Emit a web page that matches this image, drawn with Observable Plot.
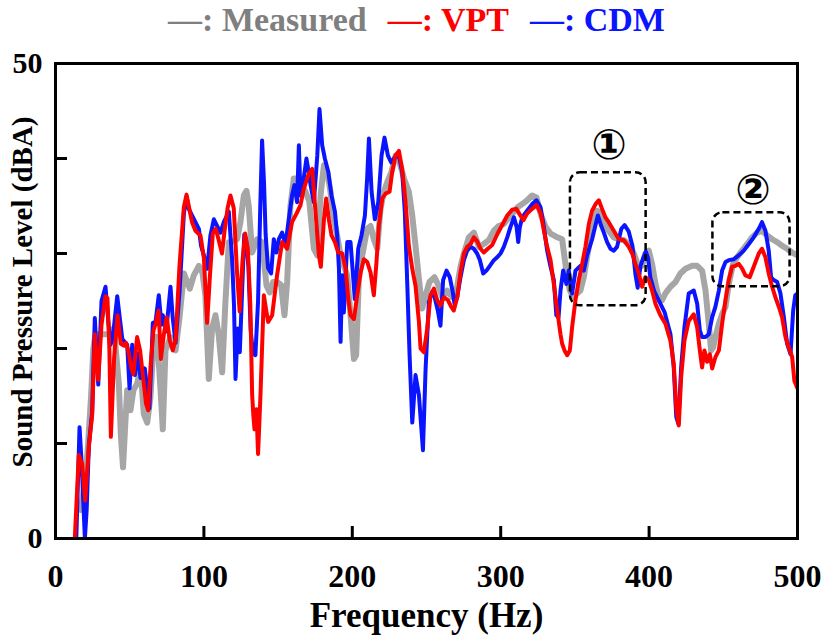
<!DOCTYPE html>
<html><head><meta charset="utf-8">
<script src="https://cdn.jsdelivr.net/npm/d3@7"></script>
<script src="https://cdn.jsdelivr.net/npm/@observablehq/plot@0.6"></script>
<style>
body{margin:0;background:#fff;}
#legend{height:40px;line-height:40px;font-family:"Liberation Serif","Times New Roman",serif;font-weight:bold;font-size:34px;display:flex;justify-content:center;gap:21px;padding-left:8px;white-space:nowrap;}
</style></head><body>
<div id="legend"></div>
<div id="chart"></div>
<script>
// Frequency (Hz), SPL (dBA)
const measured = [[17,3],[20,6],[22,10],[24,15],[25.5,20],[27,21.5],[30,21.5],[33,21.5],[36,21.5],[38,22],[40,21],[42.7,16.3],[44,11],[45.5,7.5],[47,12],[48.3,15.6],[50.5,13.5],[52.5,15.6],[55,16.3],[57.3,18],[59.5,13.1],[61.8,12.2],[64,14.9],[66.3,21.2],[68.5,21.2],[70.8,15.6],[72.3,11.5],[74.1,19.8],[77.5,21.2],[80.9,19.8],[83.6,23.3],[86.5,27.9],[90.5,26.3],[93.2,27.7],[96.6,28.7],[99,28],[101,25.6],[103.3,16.8],[105.5,22.1],[107.8,23.5],[110,21.4],[112.3,17.5],[114.5,24.9],[116.8,31.2],[119.5,31.3],[122.4,31.5],[124.6,33.3],[126.9,36.1],[128.7,36.6],[130.2,35],[132.5,30.1],[135.9,31.5],[139.2,31.2],[142.2,26.6],[144.4,25.9],[146.6,27],[149.3,27],[152,26.7],[154.3,23.5],[156.1,27],[158.3,35],[160.6,37.9],[163.9,37.9],[166,37.2],[168.5,36.5],[171,35.5],[174.1,30.5],[176.4,29.8],[178.6,36.1],[180.9,39.3],[183.1,38.6],[185.3,36.5],[187.6,33.6],[189.8,31.9],[192.1,29.8],[194.3,28.7],[196.6,27.7],[198.8,23.5],[201.1,18.9],[202.6,19.3],[204.4,27.3],[206.7,29.8],[210,32.6],[212.3,32.9],[214.5,31.5],[216.8,30.5],[219,34.7],[221.3,36.5],[223.5,37.5],[226.4,38.6],[229.1,40.3],[231.8,39.6],[234.8,37.9],[238.1,36.5],[240.4,34],[242.6,30.8],[244.9,27.3],[247.1,24.2],[249.4,25.6],[252,27],[255.4,27.5],[257.6,26.8],[260.6,25.4],[263.9,26.1],[267.3,25.4],[270.2,26.1],[272.9,28.6],[275.2,30],[278.5,31.7],[281.9,32.2],[285.3,30.7],[288.6,31],[292,31.4],[295.4,32.4],[298.7,32.9],[302.1,33.1],[305.5,33.8],[308.9,34.4],[311.6,34.9],[314.5,35.2],[317.8,35.6],[321.2,36.1],[324.1,35.9],[326.8,34.2],[330.2,32.8],[333.6,32.1],[337,31.8],[341.4,31.5],[343,29.6],[344.8,27.5],[346.6,26.1],[348.8,25.4],[351.5,25.8],[353.7,26.1],[356,27.5],[358.2,29.6],[360.5,31.7],[362.7,33.1],[365,34.5],[367.2,34.2],[369.5,33.5],[372.8,32.4],[376.2,31.7],[379.6,31.5],[383,31.4],[386.3,31],[389.7,30],[393,28.6],[395.3,28.7],[397.5,30],[399.8,30.3],[402,28.9],[404.3,26.8],[406.5,25.4],[408.8,25.1],[411,25.8],[414.4,26.5],[417.8,27],[421.1,27.9],[424.5,28.4],[429,28.7],[432.4,28.7],[435.7,28.2],[438,26.1],[440.2,22.6],[441.8,19.8],[443.1,20.1],[444.7,21.2],[447,22.6],[449.2,23.6],[451.5,24.4],[453.7,26.8],[456.6,28.9],[459.3,29.6],[462.7,30.3],[466.1,31],[469.4,31.7],[472.8,32.2],[476.1,32.4],[479.5,31.9],[482.9,31.5],[486.3,31.2],[489.7,30.8],[493,30.5],[496.4,30.1],[500,29.8]];

const vpt = [[13,0],[15.7,8.8],[18,7.8],[20,4],[22.5,9.7],[24.7,13],[26.5,21.5],[28.8,16.7],[31,22.5],[33.7,25.5],[35,25.3],[36.3,20],[37.3,10.7],[39.5,19],[41.8,23.5],[44,20.5],[46,20.3],[47.5,20.6],[49,19.8],[51,18],[52.5,17.3],[55,21.2],[57,19.8],[59.5,16.3],[61,14.2],[62.5,13.5],[64,18],[66,21.9],[67.5,22.6],[69.5,24],[71,18.9],[73,21.5],[75,23.3],[77,20.8],[79,19.8],[81,21],[83.5,28.6],[86.5,34.9],[88.3,36.2],[89.8,35],[92,33.3],[94.3,32.4],[97.7,31.9],[100,29.5],[102.2,22.7],[104,27.5],[106,32.1],[108,32.6],[110,31.4],[112.2,30],[114,32.5],[116,34.8],[117.9,36.1],[120.1,34.8],[122.4,27.8],[124.1,23.9],[126,29.2],[127.8,32.1],[129.6,30.5],[131.3,24.5],[132.5,15.2],[133.3,13],[134.1,11.5],[135.4,13.6],[136.5,8.9],[138.1,15],[140.4,25.6],[142.2,23.8],[143.3,22.8],[146,23.5],[149.3,27.7],[152.7,31.2],[156.1,30.5],[159.4,33.3],[162.4,34.2],[165.1,35.1],[167.3,36.8],[170.7,38.4],[173,38.9],[175.2,34.4],[177.5,29.8],[178.8,28.6],[180.9,33.6],[182.4,35.8],[184.2,33.6],[186,31.9],[188.3,31.2],[190.5,30.1],[193.2,30],[195.5,28.4],[197.3,25.2],[198.8,23.5],[201.1,23.1],[203.3,25.6],[205.6,28],[207.8,29.4],[210.1,29.1],[212.3,28],[214.5,25.6],[216.3,29.1],[217.9,32.9],[220.2,35.8],[222.4,36.3],[225.1,36.5],[226.9,38.6],[229.1,40.3],[231.4,40.8],[233.6,38.9],[235.9,35.4],[238.1,30.8],[240.4,28.4],[242.6,26.6],[244.9,22.8],[246,20],[248.2,19.6],[250.5,22.1],[252.7,25.6],[255,26.3],[257.2,25.1],[259.4,24.5],[261.7,25.4],[264.4,25.1],[266.6,24.4],[268.4,24],[270.7,25.4],[272.9,28],[275.2,30],[277.4,30.7],[279.7,31],[281.9,31.7],[284.1,31.3],[286.4,30.5],[288.6,30.1],[291.3,30.5],[294.3,30.9],[297.6,32],[301,33],[304.4,34],[307.7,34.6],[310.5,34.7],[312.5,34.2],[315.3,33.5],[317.8,34.2],[321.2,34.7],[324.3,35.1],[327,34.2],[329.1,32.4],[331.3,30.7],[333.6,29.3],[335.8,26.8],[338.1,24],[340.3,21.5],[341.4,20.5],[343,19.8],[344.8,19.3],[346.6,19.8],[348.1,22.2],[350.4,25.1],[352.6,27.2],[354.9,28.9],[357.1,30.7],[359.4,33.1],[361.6,34.5],[363.9,35.2],[366.1,35.6],[368.3,34.7],[370.6,33.8],[372.8,33.3],[376.2,32.4],[379.6,31.5],[383,31.4],[386.3,30.7],[388.6,30],[390.8,28.9],[393,27.9],[395.3,26.5],[397.5,27.5],[399.8,27.2],[402,26.1],[404.3,24.7],[407.6,23.5],[411,22.6],[414.4,20.8],[416.6,18.4],[418.4,13.5],[420,11.9],[421.6,17],[423.8,20.8],[426.7,22.9],[430.1,23.6],[432.4,22.2],[434.2,19.8],[435.7,18],[437.3,19.8],[439.1,18.6],[440.9,19.4],[442.5,17.9],[444.7,19.1],[447,19.8],[449.2,22.6],[451.5,25.1],[453.7,27.2],[455.9,28.6],[458.2,28.7],[460.4,28.9],[462.7,28.4],[464.9,27.7],[467.8,27.5],[470.5,28.6],[473.9,30],[476.1,30.5],[478.4,29.6],[480.6,27.9],[482.9,26.5],[485.1,25.4],[487.4,24.4],[489.6,23.3],[491.9,21.2],[494.1,20.1],[496.4,19.1],[497.9,16.6],[500,15.8]];

const cdm = [[14,0],[16.2,11.7],[17.6,8],[19.8,0],[21,3],[22.5,9.9],[24.7,13.3],[26.5,23.2],[28.8,16.2],[31,25],[33.7,26.5],[35.5,23],[37,20.4],[38.5,21],[41.6,25.5],[45,21],[48.3,20.4],[49.9,15.8],[51.7,20.4],[53.5,17.2],[55.5,19.5],[57.3,16.9],[60.2,17.9],[63.3,13.7],[65.6,22.7],[67.4,22.8],[69.6,25.6],[71.4,22.5],[72.3,23.5],[74.6,21.8],[77.5,26.5],[79,23.2],[80.9,20.6],[83.6,26],[86.5,34.2],[88.3,36],[89.8,34.7],[92,34],[94.3,33.3],[96.6,32.6],[98.1,30.8],[100,29.8],[102.2,28.4],[104.4,31.9],[106.7,33.6],[108.9,32.9],[111.2,32.2],[113.4,33.3],[116.8,34.4],[119,29.4],[120.3,24.5],[121.3,16.8],[122.8,22.1],[124.2,19.6],[125.8,26.3],[127.2,32],[128.4,31.5],[130,28.6],[131.5,22],[133,19.5],[134.7,19.3],[136.5,25],[138,35],[139.2,41.9],[140.5,37.5],[141.6,32],[143.2,28.5],[145.3,27.9],[147.1,31.5],[148.9,30.1],[150.5,31.5],[152.7,32.2],[155,31],[157.2,33.6],[159.4,36.1],[161,37.2],[162.8,35.4],[164,41.4],[165.1,36.1],[166.9,37.5],[169.1,40],[170.7,38.5],[171.9,37.2],[174.1,35.4],[176.4,40.3],[177.9,45.2],[179.7,41.4],[181.5,40],[183.8,38.6],[186,36.1],[188.3,34.4],[189.8,31.9],[191,28.4],[192.1,20.7],[193.2,27.7],[194.3,23.8],[196.6,31.2],[198.8,31.2],[201.7,25.2],[204,30.5],[206.2,31.9],[208.5,34],[210,37.9],[211.2,42.1],[213,36.5],[215.2,33.6],[217.5,35.4],[219.7,40.3],[221.7,42.2],[224,40.3],[226.2,39.6],[228.5,40.1],[231.4,40.3],[233.6,38.6],[235.4,34.4],[237,27],[238.6,19.3],[240.4,12.2],[242.6,17.2],[244.9,15.1],[247.6,9.3],[249.4,17.9],[251.6,24.9],[253.9,26],[255.5,25.4],[257.6,24],[259.4,22.4],[261.2,27.2],[263.5,28.2],[265.7,27.5],[267.5,26.1],[268.9,24.7],[270.7,25.4],[272.9,27.5],[275.2,29.3],[277.4,30.3],[279.7,30.7],[281.9,30.5],[284.1,30],[286,29.3],[288.2,27.9],[290.4,28.2],[292.7,28.7],[295.4,29.3],[297.6,29.6],[299.9,30],[302.1,30.7],[304.4,31.7],[306.6,32.8],[308.9,33.8],[310.7,32.8],[311.8,31.2],[312.9,32.8],[314.5,33.8],[317.8,34.5],[321.2,35.2],[324.1,35.6],[326.8,34.9],[329.1,32.8],[331.3,30.3],[333.6,28.6],[335.8,27.2],[337.5,23.5],[339,23.3],[340.3,26.1],[342.1,28.2],[344.3,26.8],[345.9,28.2],[348.1,25.8],[350.4,28.2],[353.7,28.7],[356,28.2],[358.2,29.8],[361.6,31.5],[363.9,33],[365.5,34],[367.5,33],[369.5,32.2],[371.7,31.2],[374,30.5],[376.2,30.3],[378.4,30.7],[381.3,32.6],[383.5,33],[386.3,32.3],[388.8,30.8],[390.8,27.8],[392.3,26.4],[394.2,28.7],[396,29.5],[397.8,30.2],[399.3,29.5],[400.8,27.5],[403.5,26],[407,24.9],[410.5,23.8],[414.4,21.5],[416.6,18],[418.3,12.8],[419.7,12.1],[421.6,18],[423.8,22.2],[426.7,25.8],[430.1,26.1],[432.4,24.7],[434.2,21.9],[435.7,21.2],[438,21.2],[440.2,21.5],[442.5,23.3],[444.7,24.4],[447,26.1],[449.2,28.2],[451.5,29.1],[453.7,29.3],[457.1,29.4],[460.4,29.8],[463.8,30.3],[467.2,31],[470.5,31.7],[473.9,32.6],[476.1,33.3],[478.4,32.4],[480.6,30.3],[482.2,27.5],[484,27.2],[486.3,27],[488.5,25.8],[490.8,23.3],[493,20.5],[495.3,19.4],[497.1,24],[498.5,25.6],[500,25.8]];

const seriesNames = ["Measured", "VPT", "CDM"];
const lineColors = ["#A6A6A6", "#FF0000", "#0A14FF"];
const legendColors = ["#7F7F7F", "#FF0000", "#0A14FF"];
const xTickLabels = [0, 100, 200, 300, 400, 500];
const xTickMarks = [100, 200, 300, 400];
const yTickLabels = [0, 50];
const yTickMarks = [10, 20, 30, 40];
const boxes = [{x1: 347, x2: 398, y1: 24.5, y2: 38.5}, {x1: 443, x2: 495, y1: 26.5, y2: 34.3}];
const boxLabels = [{x: 373, y: 41.4, label: "①"}, {x: 470, y: 36.6, label: "②"}];

const serif = "'Liberation Serif','Times New Roman',serif";

// legend
const leg = document.getElementById("legend");
seriesNames.forEach((n, i) => {
  const s = document.createElement("span");
  s.style.color = legendColors[i];
  s.textContent = "\u2014: " + n;
  leg.appendChild(s);
});

const toRows = (arr) => arr.map(([f, v]) => ({f, v}));
const lineOpts = (i, w) => ({x: "f", y: "v", stroke: lineColors[i], strokeWidth: w, clip: true, strokeLinejoin: "round"});

const chart = Plot.plot({
  width: 825,
  height: 604,
  marginLeft: 55,
  marginRight: 28,
  marginTop: 23,
  marginBottom: 106,
  style: {fontFamily: serif, fontWeight: "bold", color: "black", background: "white"},
  x: {domain: [0, 500]},
  y: {domain: [0, 50]},
  marks: [
    Plot.line(toRows(measured), lineOpts(0, 6)),
    Plot.line(toRows(cdm), lineOpts(2, 4)),
    Plot.line(toRows(vpt), lineOpts(1, 4)),
    Plot.rect(boxes, {x1: "x1", x2: "x2", y1: "y1", y2: "y2", rx: 10, fill: "none", stroke: "black", strokeWidth: 2.5, strokeDasharray: "7,4"}),
    Plot.text(boxLabels, {x: "x", y: "y", text: "label", fontSize: 42, fontFamily: "DejaVu Sans", fontWeight: "bold", fill: "black"}),
    Plot.axisX(xTickLabels, {tickSize: 0, tickPadding: 26, fontSize: 32, fontWeight: "bold", label: null}),
    Plot.axisX(xTickMarks, {tickSize: -12, tickFormat: () => "", strokeWidth: 3, label: null}),
    Plot.axisY(yTickLabels, {tickSize: 0, tickPadding: 13, fontSize: 30, fontWeight: "bold", label: null}),
    Plot.axisY(yTickMarks, {tickSize: -12, tickFormat: () => "", strokeWidth: 3, label: null}),
    Plot.text(["Frequency (Hz)"], {frameAnchor: "bottom", dy: 88, fontSize: 35, fontWeight: "bold", fill: "black", textAnchor: "middle"}),
    Plot.text(["Sound Pressure Level (dBA)"], {frameAnchor: "left", rotate: -90, dx: -33, dy: -9, fontSize: 29, fontWeight: "bold", fill: "black", textAnchor: "middle"}),
    Plot.frame({stroke: "black", strokeWidth: 3})
  ]
});
document.getElementById("chart").appendChild(chart);
</script>
</body></html>
